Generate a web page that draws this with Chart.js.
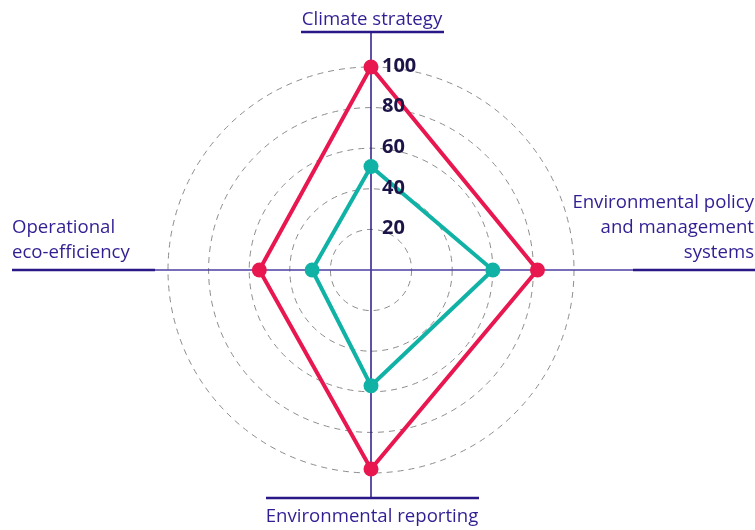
<!DOCTYPE html>
<html>
<head>
<meta charset="utf-8">
<script src="https://cdn.jsdelivr.net/npm/chart.js@4/dist/chart.umd.min.js"></script>
<style>
  html, body { margin: 0; padding: 0; background: #ffffff; }
  #wrap { width: 755px; height: 530px; position: relative; }
</style>
</head>
<body>
<div id="wrap"><canvas id="c" width="755" height="530"></canvas></div>
<script>
// ---- data ----
const categories = [
  ['Climate strategy'],
  ['Environmental policy', 'and management', 'systems'],
  ['Environmental reporting'],
  ['Operational', 'eco-efficiency']
];
const seriesRed = [100, 82, 98, 55];
const seriesTeal = [51, 60, 57, 29];
const tickValues = [20, 40, 60, 80, 100];

// ---- styles ----
const RED = '#e8174f';
const TEAL = '#10b2a6';
const AXIS = '#2a1889';
const LABEL = '#2f1f93';
const TICK = '#1b1446';
const LABEL_FONT = '18.6px "Open Sans"';

const axisPlugin = {
  id: 'axisDecor',
  beforeDatasetsDraw(chart) {
    const s = chart.scales.r;
    const ctx = chart.ctx;
    const cx = s.xCenter, cy = s.yCenter;
    ctx.save();
    ctx.strokeStyle = AXIS;
    ctx.lineWidth = 1.5;
    ctx.beginPath();
    ctx.moveTo(cx, 33); ctx.lineTo(cx, 498);
    ctx.stroke();
    ctx.strokeStyle = '#4b3ca2';
    ctx.beginPath();
    ctx.moveTo(155, cy); ctx.lineTo(633, cy);
    ctx.stroke();
    ctx.restore();
  },
  afterDatasetsDraw(chart) {
    const s = chart.scales.r;
    const ctx = chart.ctx;
    const cx = s.xCenter, cy = s.yCenter;
    ctx.save();
    ctx.fillStyle = TICK;
    ctx.font = 'bold 20px "Open Sans"';
    ctx.textAlign = 'left';
    ctx.textBaseline = 'middle';
    tickValues.forEach(v => {
      const d = s.getDistanceFromCenterForValue(v);
      ctx.fillText(String(v), cx + 11, cy - d - 1);
    });
    ctx.restore();
  },
  afterDraw(chart) {
    const s = chart.scales.r;
    const ctx = chart.ctx;
    const cx = s.xCenter, cy = s.yCenter;
    ctx.save();
    // thick underlines
    ctx.strokeStyle = AXIS;
    ctx.lineWidth = 2.5;
    ctx.beginPath();
    ctx.moveTo(301, 32); ctx.lineTo(444, 32);       // top
    ctx.moveTo(633, cy); ctx.lineTo(755, cy);       // right
    ctx.moveTo(266, 498); ctx.lineTo(479, 498);     // bottom
    ctx.moveTo(12, cy); ctx.lineTo(155, cy);        // left
    ctx.stroke();

    ctx.fillStyle = LABEL;
    ctx.font = LABEL_FONT;
    ctx.textBaseline = 'alphabetic';
    // top
    ctx.textAlign = 'center';
    ctx.fillText(categories[0][0], cx + 1, 25);
    // right
    ctx.textAlign = 'right';
    categories[1].forEach((t, i) => ctx.fillText(t, 754, 208 + i * 25));
    // bottom
    ctx.textAlign = 'center';
    ctx.fillText(categories[2][0], cx + 1, 522);
    // left
    ctx.textAlign = 'left';
    categories[3].forEach((t, i) => ctx.fillText(t, 12, 233 + i * 25));
    ctx.restore();
  }
};

new Chart(document.getElementById('c'), {
  type: 'radar',
  data: {
    labels: categories.map(c => c.join(' ')),
    datasets: [
      {
        label: 'Teal',
        data: seriesTeal,
        borderColor: TEAL,
        backgroundColor: 'rgba(0,0,0,0)',
        borderWidth: 4,
        pointRadius: 7.5,
        pointBackgroundColor: TEAL,
        pointBorderWidth: 0,
        fill: false
      },
      {
        label: 'Red',
        data: seriesRed,
        borderColor: RED,
        backgroundColor: 'rgba(0,0,0,0)',
        borderWidth: 4,
        pointRadius: 7.5,
        pointBackgroundColor: RED,
        pointBorderWidth: 0,
        fill: false
      }
    ]
  },
  options: {
    responsive: false,
    devicePixelRatio: 1,
    animation: false,
    layout: { padding: { left: 168, right: 181, top: 67, bottom: 57 } },
    plugins: { legend: { display: false }, tooltip: { enabled: false } },
    scales: {
      r: {
        min: 0,
        max: 100,
        ticks: { display: false, stepSize: 20 },
        grid: { circular: true, color: '#8c8c8c', lineWidth: 1 },
        border: { dash: [6, 5] },
        angleLines: { display: false },
        pointLabels: { display: false }
      }
    }
  },
  plugins: [axisPlugin]
});
</script>
</body>
</html>
